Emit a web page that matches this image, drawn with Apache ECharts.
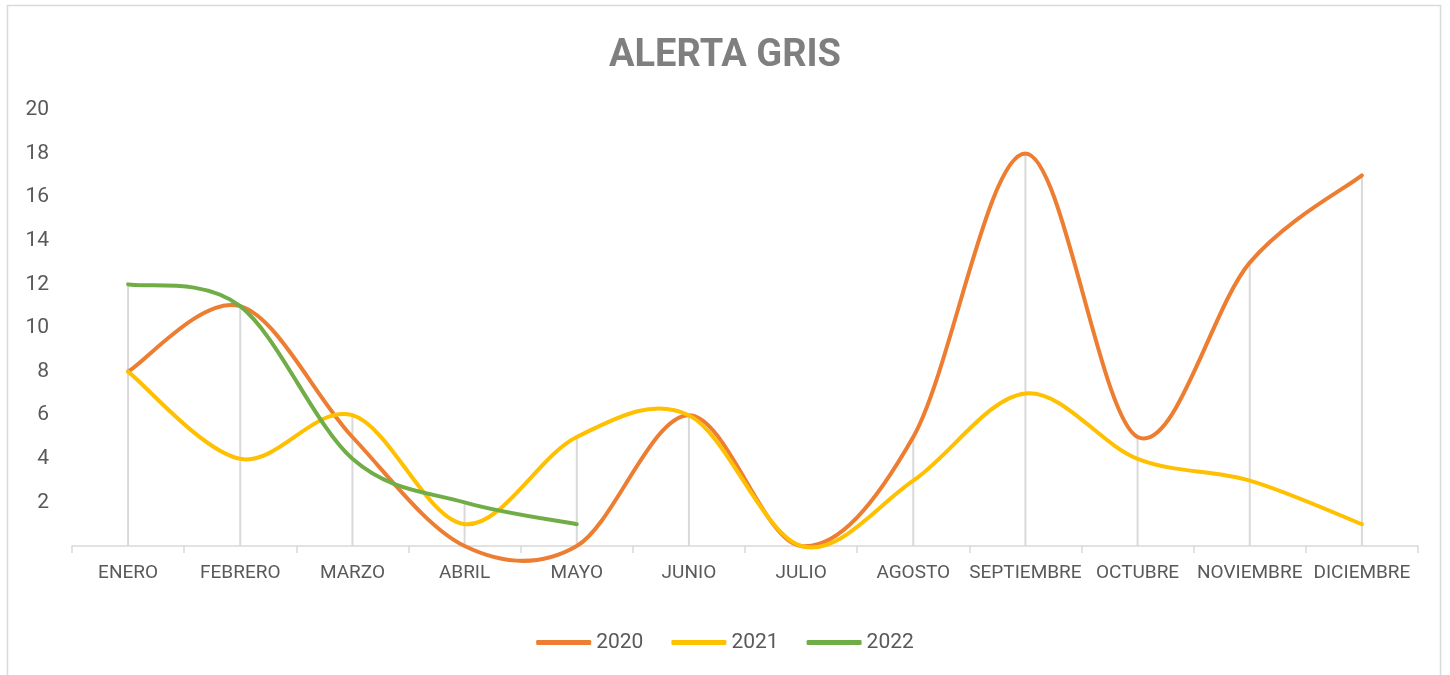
<!DOCTYPE html>
<html>
<head>
<meta charset="utf-8">
<script src="https://cdn.jsdelivr.net/npm/echarts@6/dist/echarts.min.js"></script>
<style>
  body { margin: 0; background: #fff; }
  #chart { width: 1450px; height: 675px; }
</style>
</head>
<body>
<div id="chart"></div>
<script>
// data
const months = ['ENERO', 'FEBRERO', 'MARZO', 'ABRIL', 'MAYO', 'JUNIO', 'JULIO', 'AGOSTO', 'SEPTIEMBRE', 'OCTUBRE', 'NOVIEMBRE', 'DICIEMBRE'];
const y2020 = [8, 11, 5, 0, 0, 6, 0, 5, 18, 5, 13, 17];
const y2021 = [8, 4, 6, 1, 5, 6, 0, 3, 7, 4, 3, 1];
const y2022 = [12, 11, 4, 2, 1];

// drop lines go from the highest point of each month down to the axis
let dropLines = months.map((m, i) => {
    let vals = [y2020[i], y2021[i], y2022[i]].filter(v => v !== undefined);
    return Math.max(...vals);
});

let chart = echarts.init(document.getElementById('chart'));

// excel-like smoothed line (catmull-rom through the points, no clamping)
function splinePath(api, vals) {
    let pts = vals.map((v, i) => api.coord([i, v]));
    let d = 'M' + pts[0][0] + ' ' + pts[0][1];
    for (let i = 0; i < pts.length - 1; i++) {
        let p0 = pts[i - 1] || pts[i];
        let p1 = pts[i];
        let p2 = pts[i + 1];
        let p3 = pts[i + 2] || pts[i + 1];
        let c1x = p1[0] + (p2[0] - p0[0]) / 6, c1y = p1[1] + (p2[1] - p0[1]) / 6;
        let c2x = p2[0] - (p3[0] - p1[0]) / 6, c2y = p2[1] - (p3[1] - p1[1]) / 6;
        d += ' C' + c1x + ' ' + c1y + ' ' + c2x + ' ' + c2y + ' ' + p2[0] + ' ' + p2[1];
    }
    return d;
}

let lineSeries = function (name, vals, color) {
    return {
        name: name,
        type: 'custom',
        data: vals.map((v, i) => [i, v]),
        encode: { x: 0, y: 1 },
        z: 5,
        itemStyle: { color: color },
        renderItem: function (params, api) {
            if (params.dataIndex !== 0) return;
            return {
                type: 'path',
                shape: { pathData: splinePath(api, vals) },
                style: { fill: 'none', stroke: color, lineWidth: 4, lineCap: 'round', lineJoin: 'round' }
            };
        }
    };
};

let option = {
    animation: false,
    textStyle: { fontFamily: 'Roboto' },
    title: {
        text: 'ALERTA GRIS',
        left: 'center',
        top: 32,
        textStyle: { fontSize: 38, fontWeight: 'bold', color: '#7f7f7f', fontFamily: 'Roboto' }
    },
    graphic: [{
        type: 'rect',
        shape: { x: 7.5, y: 5.5, width: 1433, height: 700 },
        style: { fill: 'none', stroke: '#d9d9d9', lineWidth: 1.5 },
        silent: true
    }],
    legend: {
        data: ['2020', '2021', '2022'],
        bottom: 17,
        left: 'center',
        itemWidth: 55,
        itemHeight: 5,
        itemGap: 28,
        icon: 'roundRect',
        textStyle: { fontSize: 21, color: '#595959' }
    },
    grid: { left: 72, right: 32, top: 110, bottom: 129 },
    xAxis: {
        type: 'category',
        data: months,
        boundaryGap: true,
        axisLine: { lineStyle: { color: '#d9d9d9', width: 1.5 } },
        axisTick: { show: true, length: 7, lineStyle: { color: '#d9d9d9', width: 1.5 } },
        axisLabel: { interval: 0, margin: 18, fontSize: 19, color: '#595959' }
    },
    yAxis: {
        type: 'value',
        min: 0,
        max: 20,
        interval: 2,
        axisLine: { show: false },
        axisTick: { show: false },
        splitLine: { show: false },
        axisLabel: {
            margin: 23,
            fontSize: 21,
            color: '#595959',
            formatter: v => v === 0 ? '' : v
        }
    },
    series: [
        {
            name: 'drop',
            type: 'bar',
            data: dropLines,
            barWidth: 2,
            silent: true,
            z: 1,
            itemStyle: { color: '#d9d9d9' }
        },
        lineSeries('2020', y2020, '#ED7D31'),
        lineSeries('2021', y2021, '#FFC000'),
        lineSeries('2022', y2022, '#70AD47')
    ]
};

chart.setOption(option);
</script>
</body>
</html>
